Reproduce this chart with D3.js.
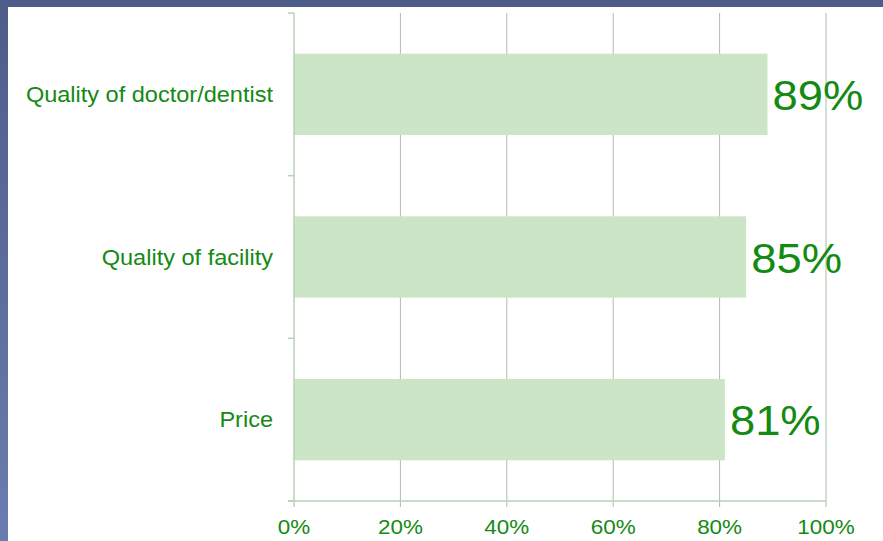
<!DOCTYPE html>
<html>
<head>
<meta charset="utf-8">
<script src="https://cdn.jsdelivr.net/npm/d3@7"></script>
<style>
  body { margin: 0; background: #fff; }
  svg { display: block; font-family: "Liberation Sans", Arial, sans-serif; }
</style>
</head>
<body>
<svg id="chart" width="883" height="541"></svg>
<script>
// data
const categories = ["Quality of doctor/dentist", "Quality of facility", "Price"];
const values = [89, 85, 81];
const xTicks = [0, 20, 40, 60, 80, 100];

const svg = d3.select("#chart");
const W = 883, H = 541;
const textGreen = "#148a14";
const stretch = 1.07; // text in the original is slightly wide

// frame (dark blue border top and left)
const grad = svg.append("defs").append("linearGradient")
  .attr("id", "leftband").attr("x1", 0).attr("y1", 0).attr("x2", 0).attr("y2", 1);
grad.append("stop").attr("offset", "0%").attr("stop-color", "#4e5c89");
grad.append("stop").attr("offset", "100%").attr("stop-color", "#6b7cb0");
svg.append("rect").attr("x", 0).attr("y", 0).attr("width", W).attr("height", 7).attr("fill", "#4e5c89");
svg.append("rect").attr("x", 0).attr("y", 0).attr("width", 8).attr("height", H).attr("fill", "url(#leftband)");

const plotLeft = 294, plotRight = 826, plotTop = 13, plotBottom = 501;

const x = d3.scaleLinear().domain([0, 100]).range([plotLeft, plotRight]);
const y = d3.scaleBand().domain(categories).range([plotTop, plotBottom]).paddingInner(0.5).paddingOuter(0.25);
const yEdges = d3.scaleLinear().domain([0, categories.length]).range([plotTop, plotBottom]);

// gridlines
svg.append("g").selectAll("line")
  .data(xTicks.slice(1))
  .enter().append("line")
  .attr("x1", d => x(d)).attr("x2", d => x(d))
  .attr("y1", plotTop).attr("y2", plotBottom + 6)
  .attr("stroke", "#a9c0a9").attr("stroke-width", 1);

// bars
svg.append("g").selectAll("rect")
  .data(values)
  .enter().append("rect")
  .attr("x", x(0))
  .attr("y", (d, i) => y(categories[i]))
  .attr("width", d => x(d) - x(0))
  .attr("height", y.bandwidth())
  .attr("fill", "#cce5c6");

// axes lines
svg.append("line")
  .attr("x1", plotLeft).attr("x2", plotLeft).attr("y1", plotTop).attr("y2", plotBottom + 6)
  .attr("stroke", "#b9d2b9").attr("stroke-width", 1.5);
svg.append("line")
  .attr("x1", plotLeft - 6).attr("x2", plotRight).attr("y1", plotBottom).attr("y2", plotBottom)
  .attr("stroke", "#b9d2b9").attr("stroke-width", 1.5);

// y tick marks at band edges
svg.append("g").selectAll("line")
  .data(d3.range(categories.length + 1))
  .enter().append("line")
  .attr("x1", plotLeft - 6).attr("x2", plotLeft)
  .attr("y1", d => yEdges(d)).attr("y2", d => yEdges(d))
  .attr("stroke", "#b9d2b9").attr("stroke-width", 1.5);

// category labels
svg.append("g").selectAll("text")
  .data(categories)
  .enter().append("text")
  .attr("transform", d => `translate(273,${y(d) + y.bandwidth() / 2}) scale(${stretch},1)`)
  .attr("dy", "0.35em")
  .attr("text-anchor", "end")
  .attr("fill", textGreen)
  .style("font-size", "22px")
  .text(d => d);

// value labels
svg.append("g").selectAll("text")
  .data(values)
  .enter().append("text")
  .attr("transform", (d, i) => `translate(${x(d) + 5},${y(categories[i]) + y.bandwidth() / 2 + 1}) scale(1.08,1)`)
  .attr("dy", "0.35em")
  .attr("fill", textGreen)
  .style("font-size", "42px")
  .text(d => d + "%");

// x tick labels
svg.append("g").selectAll("text")
  .data(xTicks)
  .enter().append("text")
  .attr("transform", d => `translate(${x(d)},534) scale(${stretch},1)`)
  .attr("text-anchor", "middle")
  .attr("fill", textGreen)
  .style("font-size", "21px")
  .text(d => d + "%");
</script>
</body>
</html>
